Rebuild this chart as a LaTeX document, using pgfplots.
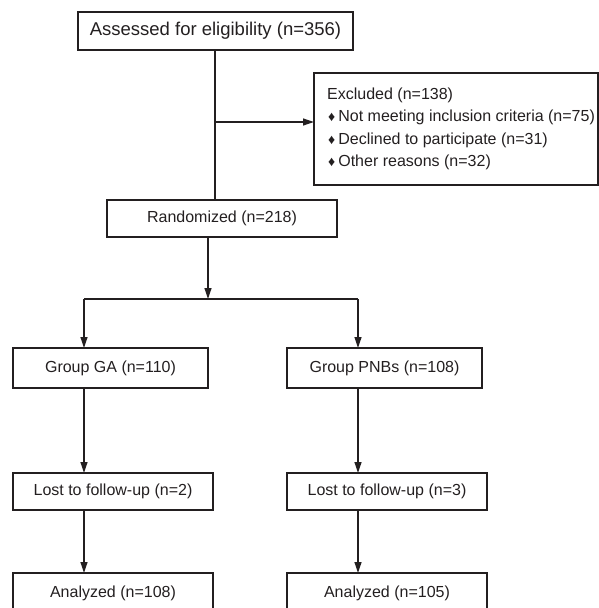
\documentclass[border=0pt]{standalone}
\usepackage{fontspec}
\setmainfont{Liberation Sans}
\usepackage{pgfplots}
\pgfplotsset{compat=1.18}
\usetikzlibrary{arrows.meta}
\definecolor{ink}{HTML}{231F20}
\begin{document}
\begin{tikzpicture}[x=1pt,y=1pt]
\begin{axis}[at={(0,0)}, anchor=south west, width=599pt, height=608pt,
  scale only axis, hide axis, xmin=0, xmax=599, ymin=0, ymax=608,
  y dir=reverse, clip=false]
\coordinate (BBa) at (rel axis cs:0,0);
\coordinate (BBb) at (rel axis cs:1,1);
\tikzset{thin box/.style={draw=ink, line width=1.1pt},
  thick box/.style={draw=ink, line width=2.4pt},
  conn/.style={draw=ink, line width=1.2pt},
  arr/.style={conn, -{Triangle[length=11pt,width=7pt]}},
  lab/.style={text=ink, font=\fontsize{16}{19}\selectfont, inner sep=0pt}}
% boxes
\draw[thin box] (axis cs:78,12) rectangle (axis cs:353,50);
\draw[thin box] (axis cs:314,73) rectangle (axis cs:598,185);
\draw[thick box] (axis cs:107,200) rectangle (axis cs:337,237);
\draw[thick box] (axis cs:13,348) rectangle (axis cs:208,388);
\draw[thin box] (axis cs:287,348) rectangle (axis cs:482,388);
\draw[thin box] (axis cs:13,473) rectangle (axis cs:213,510);
\draw[thin box] (axis cs:287,473) rectangle (axis cs:487,510);
\draw[thin box] (axis cs:13,573) rectangle (axis cs:213,615);
\draw[thin box] (axis cs:287,573) rectangle (axis cs:487,615);
% connectors
\draw[conn] (axis cs:215,50) -- (axis cs:215,200);
\draw[arr] (axis cs:215,122) -- (axis cs:314,122);
\draw[arr] (axis cs:208,237) -- (axis cs:208,299);
\draw[conn] (axis cs:84,299) -- (axis cs:358,299);
\draw[arr] (axis cs:84,299) -- (axis cs:84,348);
\draw[arr] (axis cs:358,299) -- (axis cs:358,348);
\draw[arr] (axis cs:84,388) -- (axis cs:84,473);
\draw[arr] (axis cs:358,388) -- (axis cs:358,473);
\draw[arr] (axis cs:84,510) -- (axis cs:84,573);
\draw[arr] (axis cs:358,510) -- (axis cs:358,573);
% labels
\node[lab, font=\fontsize{18.5}{22}\selectfont] at (axis cs:215.5,31) {Assessed for eligibility (n=356)};
\node[lab, anchor=west] at (axis cs:327,95) {Excluded (n=138)};
\node[lab, anchor=west] at (axis cs:328,117) {{\fontsize{14}{16}\selectfont ♦}\hspace{3pt}Not meeting inclusion criteria (n=75)};
\node[lab, anchor=west] at (axis cs:328,140) {{\fontsize{14}{16}\selectfont ♦}\hspace{3pt}Declined to participate (n=31)};
\node[lab, anchor=west] at (axis cs:328,162) {{\fontsize{14}{16}\selectfont ♦}\hspace{3pt}Other reasons (n=32)};
\node[lab] at (axis cs:222,218.5) {Randomized (n=218)};
\node[lab] at (axis cs:110.5,368) {Group GA (n=110)};
\node[lab] at (axis cs:384.5,368) {Group PNBs (n=108)};
\node[lab] at (axis cs:113,491.5) {Lost to follow-up (n=2)};
\node[lab] at (axis cs:387,491.5) {Lost to follow-up (n=3)};
\node[lab] at (axis cs:113,593) {Analyzed (n=108)};
\node[lab] at (axis cs:387,593) {Analyzed (n=105)};
\end{axis}
\pgfresetboundingbox
\path[use as bounding box] (BBa) rectangle (BBb);
\end{tikzpicture}
\end{document}
